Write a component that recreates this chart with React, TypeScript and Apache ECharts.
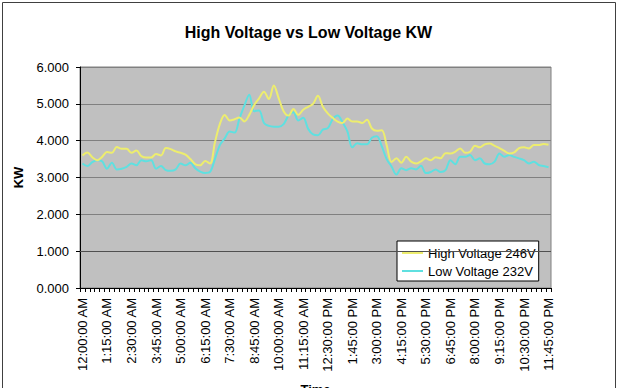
import React, { useEffect, useRef } from "react";
import * as echarts from "echarts";

const FONT = "'Liberation Sans', Arial, sans-serif";

const chartTitle = "High Voltage vs Low Voltage KW";
const seriesNames = ["High Voltage 246V", "Low Voltage 232V"];

// 15-minute time slots over one day (category axis)
const timeCategories: string[] = (() => {
  const out: string[] = [];
  for (let m = 0; m < 24 * 60; m += 15) {
    const h24 = Math.floor(m / 60);
    const mm = m % 60;
    const ampm = h24 < 12 ? "AM" : "PM";
    const h12 = h24 % 12 === 0 ? 12 : h24 % 12;
    out.push(`${h12}:${String(mm).padStart(2, "0")}:00 ${ampm}`);
  }
  return out;
})();

const highVoltage = [
  3.60, 3.68, 3.55, 3.47, 3.56, 3.69, 3.67, 3.83, 3.78, 3.78,
  3.67, 3.73, 3.58, 3.54, 3.54, 3.64, 3.60, 3.80, 3.77, 3.71,
  3.67, 3.62, 3.50, 3.36, 3.33, 3.45, 3.38, 3.95, 4.45, 4.70,
  4.55, 4.58, 4.63, 4.52, 4.70, 4.97, 5.15, 5.33, 5.13, 5.50,
  5.15, 4.80, 4.68, 4.86, 4.70, 4.84, 4.92, 5.00, 5.22, 4.92,
  4.74, 4.62, 4.52, 4.48, 4.60, 4.52, 4.52, 4.48, 4.57, 4.33,
  4.27, 4.28, 3.88, 3.42, 3.52, 3.40, 3.56, 3.43, 3.38, 3.44,
  3.52, 3.47, 3.55, 3.52, 3.66, 3.65, 3.70, 3.79, 3.67, 3.70,
  3.86, 3.82, 3.90, 3.92, 3.86, 3.80, 3.72, 3.65, 3.68, 3.80,
  3.82, 3.79, 3.88, 3.88, 3.91, 3.89,
];

const lowVoltage = [
  3.38, 3.31, 3.42, 3.47, 3.44, 3.24, 3.40, 3.22, 3.24, 3.29,
  3.38, 3.33, 3.47, 3.44, 3.47, 3.24, 3.31, 3.20, 3.18, 3.22,
  3.38, 3.33, 3.40, 3.25, 3.16, 3.12, 3.15, 3.50, 3.88, 4.06,
  4.25, 4.22, 4.60, 4.95, 5.25, 4.80, 4.82, 4.48, 4.40, 4.38,
  4.38, 4.45, 4.68, 4.77, 4.55, 4.62, 4.32, 4.17, 4.15, 4.30,
  4.34, 4.58, 4.68, 4.50, 4.25, 3.82, 3.93, 3.90, 3.90, 4.08,
  4.12, 3.85, 3.50, 3.30, 3.08, 3.25, 3.20, 3.25, 3.22, 3.32,
  3.12, 3.15, 3.22, 3.15, 3.20, 3.47, 3.36, 3.56, 3.56, 3.61,
  3.47, 3.52, 3.38, 3.36, 3.43, 3.65, 3.56, 3.61, 3.56, 3.52,
  3.47, 3.38, 3.43, 3.34, 3.31, 3.28,
];

const yMin = 0;
const yMax = 6;
const yInterval = 1;

export default function App() {
  const ref = useRef<HTMLDivElement>(null);

  useEffect(() => {
    if (!ref.current) return;
    const chart = echarts.init(ref.current, undefined, { renderer: "svg" });
    chart.setOption({
      animation: false,
      backgroundColor: "#ffffff",
      textStyle: { fontFamily: FONT },
      title: {
        text: chartTitle,
        left: "center",
        top: 19,
        textStyle: { fontFamily: FONT, fontSize: 16, fontWeight: "bold", color: "#000" },
      },
      legend: {
        orient: "vertical",
        left: 397,
        top: 241,
        padding: [5, 3, 3, 5],
        itemGap: 4,
        itemWidth: 21,
        itemHeight: 2,
        icon: "rect",
        backgroundColor: "#ffffff",
        borderColor: "#000000",
        borderWidth: 1,
        borderRadius: 0,
        textStyle: { fontFamily: FONT, fontSize: 13, color: "#000", lineHeight: 14 },
        data: seriesNames,
      },
      grid: {
        left: 80,
        right: 66,
        top: 67,
        bottom: 100,
        containLabel: false,
        outerBoundsMode: "none",
        show: true,
        backgroundColor: "#c0c0c0",
        borderColor: "#808080",
        borderWidth: 1,
      },
      xAxis: {
        type: "category",
        data: timeCategories,
        boundaryGap: true,
        name: "Time",
        nameLocation: "middle",
        nameGap: 95,
        nameTextStyle: { fontFamily: FONT, fontSize: 13, fontWeight: "bold", color: "#000" },
        axisLine: { show: true, lineStyle: { color: "#000", width: 1 } },
        axisTick: { show: true, interval: 0, length: 4, lineStyle: { color: "#000" } },
        axisLabel: {
          interval: 4,
          rotate: 90,
          margin: 10,
          fontFamily: FONT,
          fontSize: 13,
          color: "#000",
        },
        splitLine: { show: false },
      },
      yAxis: {
        type: "value",
        min: yMin,
        max: yMax,
        interval: yInterval,
        name: "KW",
        nameLocation: "middle",
        nameGap: 55,
        nameTextStyle: { fontFamily: FONT, fontSize: 13, fontWeight: "bold", color: "#000" },
        axisLine: { show: true, lineStyle: { color: "#000", width: 1 } },
        axisTick: { show: true, length: 4, lineStyle: { color: "#000" } },
        axisLabel: {
          margin: 11,
          fontFamily: FONT,
          fontSize: 13,
          color: "#000",
          formatter: (v: number) => v.toFixed(3),
        },
        splitLine: { show: true, lineStyle: { color: "#808080", width: 1 } },
      },
      series: [
        {
          name: seriesNames[0],
          type: "line",
          data: highVoltage,
          smooth: 0.35,
          showSymbol: false,
          symbol: "none",
          lineStyle: { color: "#eded6e", width: 2 },
          itemStyle: { color: "#eded6e" },
          z: 3,
          markLine: {
            silent: true,
            symbol: "none",
            label: { show: false },
            lineStyle: { color: "#505050", width: 1, type: "solid" },
            data: [{ yAxis: 1 }],
          },
        },
        {
          name: seriesNames[1],
          type: "line",
          data: lowVoltage,
          smooth: 0.35,
          showSymbol: false,
          symbol: "none",
          lineStyle: { color: "#5fe0e0", width: 2 },
          itemStyle: { color: "#5fe0e0" },
          z: 2,
        },
      ],
      graphic: [
        {
          type: "rect",
          left: 0,
          top: 0,
          shape: { x: 0.5, y: 0.5, width: 613, height: 400 },
          style: { fill: "none", stroke: "#404040", lineWidth: 1 },
          silent: true,
          z: 100,
        },
      ],
    });
    return () => chart.dispose();
  }, []);

  return (
    <div
      ref={ref}
      style={{ position: "fixed", left: 0, top: 0, width: 617, height: 388 }}
    />
  );
}
